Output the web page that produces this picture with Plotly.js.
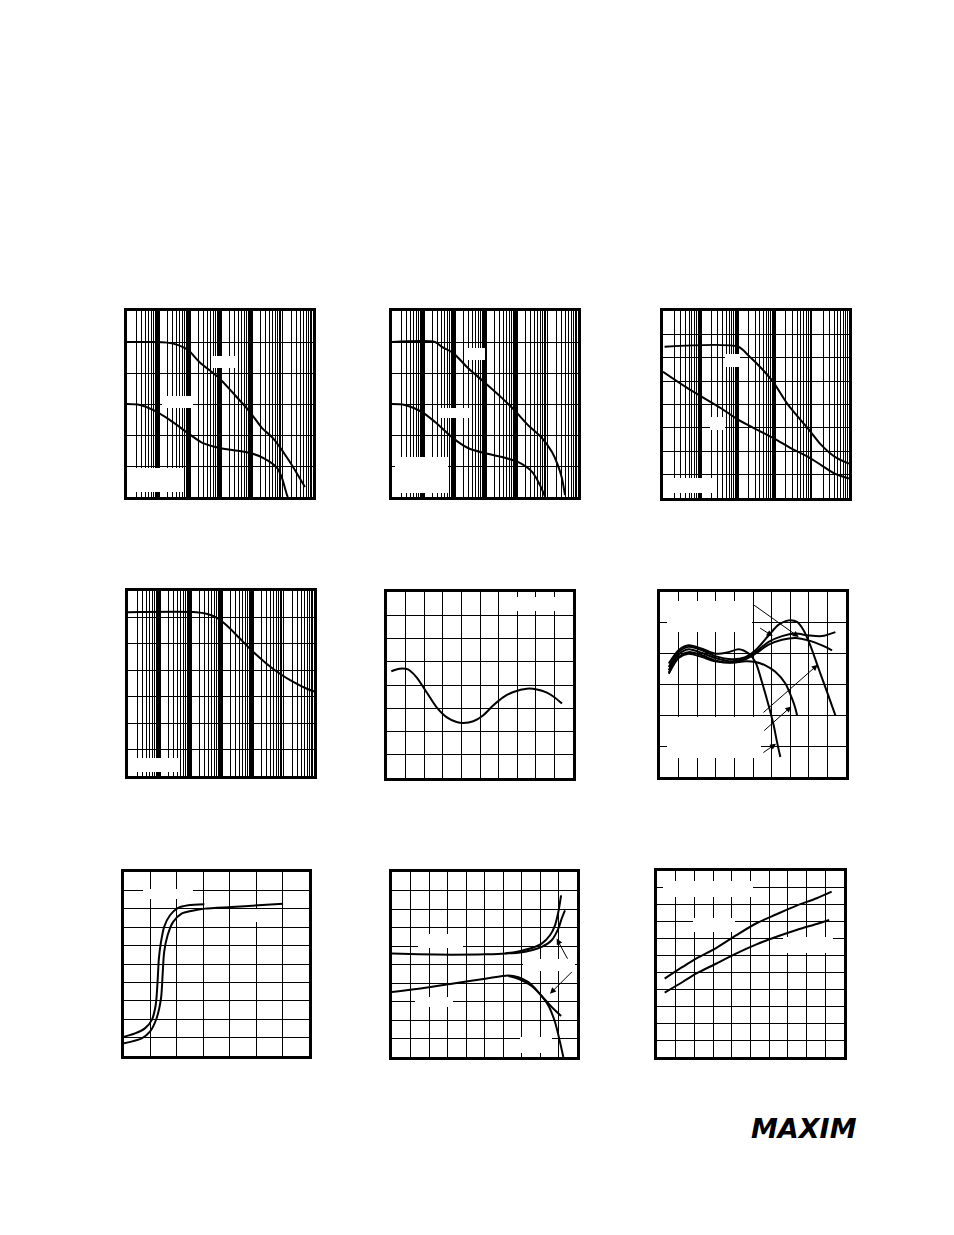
<!DOCTYPE html>
<html><head><meta charset="utf-8">
<script src="https://cdn.plot.ly/plotly-3.0.1.min.js"></script>
<style>html,body{margin:0;padding:0;background:#fff}#chart{width:954px;height:1235px}</style>
</head><body><div id="chart"></div>
<script>
// ---------- DATA ----------
// Panel 1 (log frequency, Hz)
const p1FreqA = [10, 50, 200, 450, 930, 2200, 9300, 30000, 93000, 224000, 510000, 1.8e6, 5.5e6];
const p1ValA  = [50, 50, 49.8, 49, 47.4, 43.5, 38.4, 32.9, 27.4, 22.3, 19.0, 11.3, 3.2];
const p1FreqB = [10, 26, 69, 245, 930, 2820, 10000, 93000, 245000, 690000, 1.0e6, 1.45e6, 1.55e6];
const p1ValB  = [30, 29.7, 28.1, 24.8, 20.6, 17.4, 15.8, 14.2, 12.6, 9.4, 6.1, 0.6, 0];
// Panel 2
const p2FreqA = [10, 245, 407, 930, 2820, 9330, 35500, 87100, 245000, 692000, 1.45e6, 2.24e6, 3.02e6, 3.8e6];
const p2ValA  = [50, 50, 48.4, 46.5, 41.6, 37.1, 31.9, 28.1, 23.2, 19.0, 14.5, 10.3, 6.1, 0.6];
const p2FreqB = [10, 26, 93, 245, 930, 2820, 9330, 35500, 115000, 331000, 589000, 871000];
const p2ValB  = [30, 29.7, 27.4, 24.2, 19, 15.8, 14.2, 12.9, 11.3, 8.1, 3.9, 0];
// Panel 3
const p3FreqA = [110, 10500, 19500, 44700, 91200, 234000, 794000, 1.82e6, 4.17e6, 1e7];
const p3ValA  = [64.7, 64.7, 61.1, 55.4, 49.7, 39.7, 29.7, 22.6, 17.6, 14.7];
const p3FreqB = [100, 468, 3720, 9330, 29500, 97700, 288000, 794000, 1.82e6, 4.17e6, 1e7];
const p3ValB  = [54, 46.9, 38.3, 34, 29.7, 25.4, 21.1, 17.6, 14, 10.4, 8.3];
// Panel 4
const p4Freq = [10, 1620, 3390, 7240, 15100, 40700, 110000, 295000, 794000, 2.14e6, 5.89e6, 1e7];
const p4Val  = [62, 62, 61.4, 59.9, 57, 52, 46.9, 42.5, 38.7, 35.6, 33, 32];
// Panel 5
const p5X = [0.23, 0.68, 1.13, 1.58, 2.12, 2.66, 3.2, 3.74, 4.1, 4.64, 5.18, 5.72, 6.26, 6.8, 7.52, 8.06, 8.6, 9.05, 9.41];
const p5Y = [4.59, 4.70, 4.67, 4.34, 3.70, 3.05, 2.62, 2.41, 2.37, 2.44, 2.70, 3.13, 3.48, 3.70, 3.84, 3.81, 3.67, 3.44, 3.20];
// Panel 6 (five curves)
const p6XA = [0.47, 1.0, 1.54, 2.26, 2.97, 3.87, 4.59, 5.13, 5.84, 6.38, 6.92, 7.37, 7.72, 8.08, 8.53, 8.98, 9.43];
const p6YA = [3.57, 4.05, 4.22, 4.11, 3.92, 3.82, 3.89, 4.11, 4.59, 4.94, 5.08, 5.03, 4.76, 4.27, 3.51, 2.76, 2.0];
const p6XB = [0.47, 1.0, 1.54, 2.26, 2.97, 3.87, 4.59, 5.13, 5.84, 6.56, 7.28, 7.99, 8.71, 9.43];
const p6YB = [3.46, 3.97, 4.14, 4.02, 3.86, 3.75, 3.86, 4.05, 4.38, 4.57, 4.65, 4.59, 4.57, 4.70];
const p6XC = [0.47, 1.0, 1.54, 2.26, 2.97, 3.87, 4.59, 5.13, 5.84, 6.56, 7.28, 7.99, 8.71, 9.25];
const p6YC = [3.38, 3.89, 4.05, 3.95, 3.78, 3.71, 3.82, 4.0, 4.29, 4.45, 4.51, 4.43, 4.27, 4.11];
const p6XD = [0.47, 1.0, 1.54, 2.26, 2.97, 3.69, 4.23, 4.77, 5.13, 5.48, 5.84, 6.11, 6.29, 6.47];
const p6YD = [3.68, 4.11, 4.27, 4.16, 4.0, 4.05, 4.14, 4.0, 3.73, 3.08, 2.32, 1.68, 1.14, 0.65];
const p6XE = [0.47, 1.0, 1.54, 2.26, 2.97, 3.87, 4.59, 5.13, 5.66, 6.2, 6.74, 7.1, 7.28, 7.37];
const p6YE = [3.35, 3.86, 4.0, 3.89, 3.75, 3.71, 3.75, 3.73, 3.62, 3.41, 3.03, 2.54, 2.22, 2.0];
// Panel 7
const p7XA = [0, 0.42, 0.79, 1.05, 1.2, 1.27, 1.32, 1.40, 1.52, 1.74, 2.05, 2.43, 3.04];
const p7YA = [1.05, 1.23, 1.50, 1.95, 2.77, 4.03, 5.30, 6.20, 7.02, 7.65, 8.05, 8.19, 8.25];
const p7XB = [0, 0.67, 0.98, 1.23, 1.40, 1.46, 1.52, 1.65, 1.86, 2.18, 2.68, 3.06, 4.07, 5.08, 6.02];
const p7YB = [0.69, 0.96, 1.32, 2.04, 3.13, 4.39, 5.66, 6.56, 7.29, 7.74, 7.92, 8.01, 8.10, 8.19, 8.28];
// Panel 8
const p8XU1 = [0, 1.44, 3.24, 5.04, 6.12, 6.83, 7.55, 8.09, 8.54, 8.81, 8.99, 9.14];
const p8YU1 = [5.59, 5.55, 5.53, 5.55, 5.60, 5.71, 5.89, 6.13, 6.58, 7.12, 7.84, 8.74];
const p8XU2 = [6.12, 6.83, 7.55, 8.09, 8.63, 8.99, 9.17, 9.35];
const p8YU2 = [5.60, 5.64, 5.77, 5.95, 6.31, 6.94, 7.48, 7.93];
const p8XL1 = [0, 1.44, 3.24, 5.04, 6.29, 6.83, 7.37, 7.91, 8.45, 8.81, 9.08, 9.26];
const p8YL1 = [3.51, 3.69, 3.96, 4.23, 4.41, 4.32, 4.05, 3.51, 2.79, 1.89, 0.81, 0];
const p8XL2 = [6.29, 6.83, 7.55, 8.09, 8.63, 9.14];
const p8YL2 = [4.38, 4.23, 3.84, 3.30, 2.70, 2.22];
// Panel 9
const p9XA = [0.41, 1.39, 2.11, 3.18, 4.25, 5.32, 6.39, 7.46, 8.54, 9.34];
const p9YA = [4.64, 5.34, 5.83, 6.46, 7.21, 7.91, 8.44, 8.95, 9.39, 9.78];
const p9XB = [0.41, 1.39, 2.11, 3.18, 4.25, 5.32, 6.39, 7.46, 8.54, 9.21];
const p9YB = [3.81, 4.45, 4.94, 5.53, 6.13, 6.66, 7.11, 7.51, 7.87, 8.10];

// heavy decade grid lines on the log panels
const p1Heavy = [100, 1e3, 1e4, 1e5];
const p2Heavy = [100, 1e3, 1e4, 1e5];
const p3Heavy = [1e3, 1e4, 1e5];
const p4Heavy = [100, 1e3, 1e4, 1e5];

// ---------- LAYOUT CONFIG ----------
const W = 954, H = 1235;
// panel boxes in page pixels: [left, right, top, bottom]
const boxes = [
  [127, 313, 311, 497], [392, 578, 311, 497], [663, 849, 311, 498],
  [128, 314, 591, 776], [387, 573, 592, 778], [660, 846, 592, 777],
  [124, 309, 872, 1056], [392, 577, 872, 1057], [657, 844, 871, 1057]
];
const axSpec = [
  {log: true, xr: [1, 7], heavy: p1Heavy, yr: [0, 60], yd: 10},
  {log: true, xr: [1, 7], heavy: p2Heavy, yr: [0, 60], yd: 10},
  {log: true, xr: [2, 7], heavy: p3Heavy, yr: [0, 80], yd: 10},
  {log: true, xr: [1, 7], heavy: p4Heavy, yr: [0, 70], yd: 10},
  {log: false, xr: [0, 10], xd: 1, yr: [0, 8], yd: 1},
  {log: false, xr: [0, 10], xd: 1, yr: [0, 6], yd: 1},
  {log: false, xr: [0, 7], xd: 1, yr: [0, 10], yd: 1},
  {log: false, xr: [0, 10], xd: 1, yr: [0, 10], yd: 1},
  {log: false, xr: [0, 10], xd: 1, yr: [0, 11], yd: 1}
];
// erased-label white areas, page pixels [x0,x1,y0,y1]
const blanks = [
  [[129,183,468,492],[213,237,356,368],[162,193,396,408]],
  [[395,448,457,493],[465,485,348,360],[440,470,408,418]],
  [[665,715,478,493],[725,740,354,367],[710,725,417,430]],
  [[130,180,758,772]],
  [[515,571,597,611]],
  [[667,752,601,632],[667,761,717,758]],
  [[143,193,889,899],[233,280,909,922]],
  [[418,463,934,948],[415,453,997,1007],[523,575,959,971],[520,552,1037,1053]],
  [[663,753,881,897],[693,735,918,932],[783,833,937,953]]
];

const layout = {
  width: W, height: H, margin: {l: 0, r: 0, t: 0, b: 0},
  paper_bgcolor: '#fff', plot_bgcolor: '#fff', showlegend: false,
  shapes: [], annotations: []
};
boxes.forEach((b, i) => {
  const n = i + 1, sfx = n === 1 ? '' : String(n);
  const s = axSpec[i];
  const xa = {
    domain: [b[0] / W, b[1] / W], anchor: 'y' + sfx,
    range: s.xr, showticklabels: false, ticks: '', zeroline: false,
    showline: true, mirror: true, linecolor: '#000', linewidth: 3,
    showgrid: true, gridcolor: '#000', gridwidth: 1, fixedrange: true
  };
  if (s.log) {
    xa.type = 'log'; xa.tickmode = 'array'; xa.tickvals = s.heavy; xa.gridwidth = 3;
    xa.minor = {dtick: 'D1', showgrid: true, gridcolor: '#000', gridwidth: 1, ticks: ''};
  } else { xa.dtick = s.xd; xa.tick0 = 0; }
  const ya = {
    domain: [1 - b[3] / H, 1 - b[2] / H], anchor: 'x' + sfx,
    range: s.yr, dtick: s.yd, tick0: 0, showticklabels: false, ticks: '', zeroline: false,
    showline: true, mirror: true, linecolor: '#000', linewidth: 3,
    showgrid: true, gridcolor: '#000', gridwidth: 1, fixedrange: true
  };
  layout['xaxis' + sfx] = xa; layout['yaxis' + sfx] = ya;
  blanks[i].forEach(r => {
    layout.shapes.push({
      type: 'rect', xref: 'paper', yref: 'paper', layer: 'above',
      x0: r[0] / W, x1: r[1] / W, y0: 1 - r[3] / H, y1: 1 - r[2] / H,
      fillcolor: '#fff', line: {width: 0}
    });
  });
});

const ln = {color: '#000', width: 2, shape: 'spline', smoothing: 0.8};
function tr(x, y, n) {
  const sfx = n === 1 ? '' : String(n);
  return {x: x, y: y, xaxis: 'x' + sfx, yaxis: 'y' + sfx, type: 'scatter', mode: 'lines',
          line: ln, hoverinfo: 'skip'};
}
const data = [
  tr(p1FreqA, p1ValA, 1), tr(p1FreqB, p1ValB, 1),
  tr(p2FreqA, p2ValA, 2), tr(p2FreqB, p2ValB, 2),
  tr(p3FreqA, p3ValA, 3), tr(p3FreqB, p3ValB, 3),
  tr(p4Freq, p4Val, 4),
  tr(p5X, p5Y, 5),
  tr(p6XA, p6YA, 6), tr(p6XB, p6YB, 6), tr(p6XC, p6YC, 6), tr(p6XD, p6YD, 6), tr(p6XE, p6YE, 6),
  tr(p7XA, p7YA, 7), tr(p7XB, p7YB, 7),
  tr(p8XU1, p8YU1, 8), tr(p8XU2, p8YU2, 8), tr(p8XL1, p8YL1, 8), tr(p8XL2, p8YL2, 8),
  tr(p9XA, p9YA, 9), tr(p9XB, p9YB, 9)
];

// pointer arrows (label text erased in the reference)
const arrows = [
  [6, 4.95, 5.62, 7.46, 4.54], [6, 5.30, 4.86, 6.06, 4.57],
  [6, 5.48, 2.05, 8.48, 3.64], [6, 5.52, 1.46, 7.06, 2.29], [6, 5.48, 0.76, 6.24, 1.08],
  [8, 9.53, 5.23, 8.90, 6.40], [8, 9.80, 4.68, 8.54, 3.42]
];
arrows.forEach(a => {
  const s = String(a[0]);
  layout.annotations.push({
    xref: 'x' + s, yref: 'y' + s, axref: 'x' + s, ayref: 'y' + s,
    x: a[3], y: a[4], ax: a[1], ay: a[2], text: '', showarrow: true,
    arrowhead: 2, arrowsize: 1.2, arrowwidth: 1, arrowcolor: '#000', standoff: 0
  });
});
layout.annotations.push({
  xref: 'paper', yref: 'paper', x: 804 / W, y: 1 - 1128 / H, xanchor: 'center', yanchor: 'middle',
  text: '<b><i>MAXIM</i></b>', showarrow: false,
  font: {family: 'DejaVu Sans', size: 27, color: '#000'}
});

Plotly.newPlot('chart', data, layout, {staticPlot: true, displayModeBar: false});
</script>
</body></html>
